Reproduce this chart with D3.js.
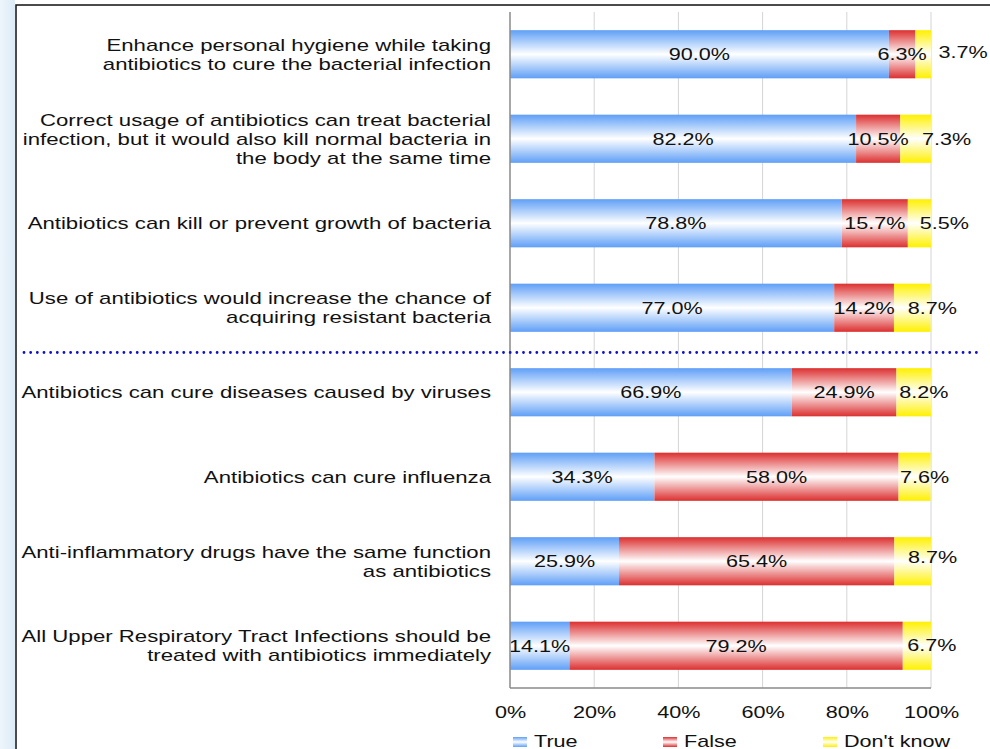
<!DOCTYPE html>
<html>
<head>
<meta charset="utf-8">
<script src="https://cdn.jsdelivr.net/npm/d3@7/dist/d3.min.js"></script>
<style>
  html, body { margin: 0; padding: 0; background: #fff; }
  svg { display: block; font-family: "Liberation Sans", Arial, sans-serif; }
</style>
</head>
<body>
<svg id="chart" width="990" height="749"></svg>
<script>
// Statements (label lines) and share of answers per response
const categories = [
  ["Enhance personal hygiene while taking", "antibiotics to cure the bacterial infection"],
  ["Correct usage of antibiotics can treat bacterial", "infection, but it would also kill normal bacteria in", "the body at the same time"],
  ["Antibiotics can kill or prevent growth of bacteria"],
  ["Use of antibiotics would increase the chance of", "acquiring resistant bacteria"],
  ["Antibiotics can cure diseases caused by viruses"],
  ["Antibiotics can cure influenza"],
  ["Anti-inflammatory drugs have the same function", "as antibiotics"],
  ["All Upper Respiratory Tract Infections should be", "treated with antibiotics immediately"]
];
const trueVals  = [90.0, 82.2, 78.8, 77.0, 66.9, 34.3, 25.9, 14.1];
const falseVals = [6.3, 10.5, 15.7, 14.2, 24.9, 58.0, 65.4, 79.2];
const dkVals    = [3.7, 7.3, 5.5, 8.7, 8.2, 7.6, 8.7, 6.7];
const seriesNames = ["True", "False", "Don't know"];
const tickVals = [0, 20, 40, 60, 80, 100];

// Layout
const plot = { left: 510, right: 931, top: 12, bottom: 688 };
const colors = ["#5f9ff7", "#dc2f2f", "#fff000"];
const dkLabelDx = [40, 31, 25, 20, 10, 10, 20, 15];
const dkLabelDy = [-2, 0, 0, 0, 0, 0, -4, -1];
const FS = 17;        // font size
const SX = 1.27;      // horizontal text stretch
const SX_CAT = 1.305; // stretch for statement labels

const svg = d3.select("#chart");
const defs = svg.append("defs");

colors.forEach((c, i) => {
  const g = defs.append("linearGradient")
    .attr("id", "grad" + i).attr("x1", 0).attr("y1", 0).attr("x2", 0).attr("y2", 1);
  g.append("stop").attr("offset", "0%").attr("stop-color", c);
  g.append("stop").attr("offset", "50%").attr("stop-color", "#ffffff");
  g.append("stop").attr("offset", "100%").attr("stop-color", c);
});

// soft blue slide edge at the left
const edge = defs.append("linearGradient").attr("id", "edge").attr("x1", 0).attr("y1", 0).attr("x2", 1).attr("y2", 0);
edge.append("stop").attr("offset", "0%").attr("stop-color", "#eef5fc");
edge.append("stop").attr("offset", "100%").attr("stop-color", "#dcebf8");
svg.append("rect").attr("x", 0).attr("y", 0).attr("width", 15).attr("height", 749).attr("fill", "url(#edge)");

// frame
svg.append("rect").attr("x", 16).attr("y", 5).attr("width", 1000).attr("height", 800)
  .attr("fill", "#fff").attr("stroke", "#111").attr("stroke-width", 1.5);

const x = d3.scaleLinear().domain([0, 100]).range([plot.left, plot.right]);
const y = d3.scaleBand().domain(d3.range(categories.length)).range([plot.top, plot.bottom]).paddingInner(0.43).paddingOuter(0.215);

// gridlines
svg.append("g").selectAll("line").data(tickVals.slice(1)).join("line")
  .attr("x1", d => x(d)).attr("x2", d => x(d))
  .attr("y1", plot.top).attr("y2", plot.bottom)
  .attr("stroke", "#d4d4d4").attr("stroke-width", 1);

// stacked bars
const rows = categories.map((c, i) => ({ i, vals: [trueVals[i], falseVals[i], dkVals[i]] }));
const segs = [];
rows.forEach(r => {
  let acc = 0;
  r.vals.forEach((v, s) => { segs.push({ row: r.i, s, v, x0: acc, x1: acc + v }); acc += v; });
});

svg.append("g").selectAll("rect").data(segs).join("rect")
  .attr("x", d => x(d.x0)).attr("width", d => x(d.x1) - x(d.x0))
  .attr("y", d => y(d.row)).attr("height", y.bandwidth())
  .attr("fill", d => "url(#grad" + d.s + ")");

// value labels
svg.append("g").selectAll("g").data(segs).join("g")
  .attr("transform", d => {
    const cx = (x(d.x0) + x(d.x1)) / 2 + (d.s === 2 ? dkLabelDx[d.row] : 0);
    const cy = y(d.row) + y.bandwidth() / 2 + (d.s === 2 ? dkLabelDy[d.row] : 0);
    return `translate(${cx},${cy}) scale(${SX},1)`;
  })
  .append("text")
  .attr("dy", "0.35em").attr("text-anchor", "middle")
  .attr("font-size", FS).attr("fill", "#111")
  .text(d => d3.format(".1f")(d.v) + "%");

// axes lines
svg.append("line").attr("x1", plot.left).attr("x2", plot.left).attr("y1", plot.top).attr("y2", plot.bottom)
  .attr("stroke", "#8a8a8a").attr("stroke-width", 1.5);
svg.append("line").attr("x1", plot.left).attr("x2", plot.right).attr("y1", plot.bottom).attr("y2", plot.bottom)
  .attr("stroke", "#8a8a8a").attr("stroke-width", 1.5);

// x tick labels
const xAxis = d3.axisBottom(x).tickValues(tickVals).tickFormat(d => d + "%").tickSize(0).tickPadding(0);
const ax = svg.append("g").attr("transform", `translate(0, ${plot.bottom + 24})`).call(xAxis);
ax.select(".domain").remove();
ax.selectAll("text").attr("font-size", FS).attr("fill", "#111").attr("dy", "0.35em")
  .attr("transform", `scale(${SX},1)`)
  .attr("font-family", "Liberation Sans, Arial, sans-serif");

// category labels
const lineH = 19;
const cat = svg.append("g").selectAll("g").data(categories).join("g")
  .attr("transform", `translate(491,0) scale(${SX_CAT},1)`)
  .append("text")
  .attr("text-anchor", "end").attr("font-size", FS).attr("fill", "#111");
cat.each(function(lines, i) {
  const cy = y(i) + y.bandwidth() / 2;
  const startY = cy - (lines.length - 1) * lineH / 2;
  d3.select(this).selectAll("tspan").data(lines).join("tspan")
    .attr("x", 0).attr("y", (d, k) => startY + k * lineH).attr("dy", "0.35em").text(d => d);
});

// dotted divider between correct and incorrect statements
const divY = (y(3) + y.bandwidth() + y(4)) / 2 + 2.5;
svg.append("line").attr("x1", 24).attr("x2", 978).attr("y1", divY).attr("y2", divY)
  .attr("stroke", "#1010c8").attr("stroke-width", 2.8)
  .attr("stroke-dasharray", "0.01,6.65").attr("stroke-linecap", "round");

// legend
const legendX = [513, 663, 823];
const lg = svg.append("g").selectAll("g").data(seriesNames).join("g")
  .attr("transform", (d, i) => `translate(${legendX[i]}, 737)`);
lg.append("rect").attr("width", 14).attr("height", 10).attr("fill", (d, i) => "url(#grad" + i + ")");
lg.append("g").attr("transform", `translate(21,10) scale(${SX},1)`)
  .append("text").attr("font-size", FS).attr("fill", "#111").text(d => d);
</script>
</body>
</html>
